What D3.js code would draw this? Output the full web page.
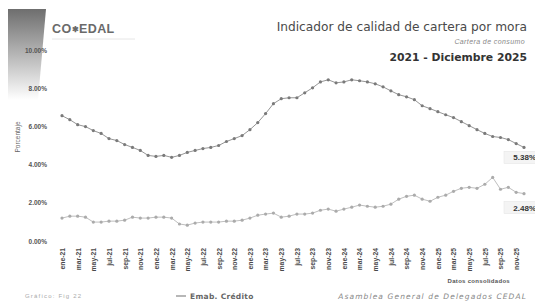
<!DOCTYPE html>
<meta charset="utf-8">
<script src="https://d3js.org/d3.v7.min.js"></script>
<style>
  body { margin: 0; background: #fff; }
  svg { font-family: "Liberation Sans", Arial, sans-serif; }
</style>
<body>
<svg id="chart" width="535" height="307"></svg>
<script>
// months: ene-2021 .. dic-2025
const monthNames = ["ene", "feb", "mar", "abr", "may", "jun", "jul", "ago", "sep", "oct", "nov", "dic"];
const years = ["21", "22", "23", "24", "25"];
const months = years.flatMap(y => monthNames.map(m => m + "-" + y));

// indicador de mora (%) - cartera total
const seriesTop = [6.56, 6.35, 6.09, 5.99, 5.78, 5.63, 5.36, 5.26, 5.05, 4.90,
                   4.74, 4.48, 4.43, 4.48, 4.38, 4.48, 4.64, 4.74, 4.84, 4.90,
                   5.00, 5.21, 5.36, 5.52, 5.83, 6.20, 6.67, 7.19, 7.45, 7.50,
                   7.50, 7.76, 8.02, 8.33, 8.44, 8.28, 8.33, 8.44, 8.39, 8.33,
                   8.23, 8.07, 7.86, 7.66, 7.55, 7.40, 7.08, 6.93, 6.77, 6.61,
                   6.46, 6.25, 6.04, 5.83, 5.63, 5.47, 5.42, 5.31, 5.10, 4.90];
// indicador de mora (%) - emab. crédito
const seriesLow = [1.20, 1.30, 1.30, 1.25, 0.99, 0.99, 1.04, 1.04, 1.09, 1.25,
                   1.20, 1.20, 1.25, 1.25, 1.20, 0.89, 0.83, 0.94, 0.99, 0.99,
                   0.99, 1.04, 1.04, 1.09, 1.20, 1.35, 1.41, 1.46, 1.25, 1.30,
                   1.41, 1.41, 1.46, 1.61, 1.67, 1.56, 1.67, 1.77, 1.88, 1.82,
                   1.77, 1.82, 1.93, 2.19, 2.34, 2.40, 2.19, 2.08, 2.29, 2.40,
                   2.60, 2.76, 2.81, 2.76, 2.97, 3.33, 2.71, 2.81, 2.55, 2.48];
const endLabels = ["5.38%", "2.48%"];
const yTicks = [0, 2, 4, 6, 8, 10];

const wide = "DejaVu Sans, Verdana, sans-serif";
const svg = d3.select("#chart");

// decorative gradient block top-left
const defs = svg.append("defs");
const grad = defs.append("linearGradient").attr("id", "fade").attr("x1", 0).attr("y1", 0).attr("x2", 0).attr("y2", 1);
grad.append("stop").attr("offset", "0%").attr("stop-color", "#6e6e6e");
grad.append("stop").attr("offset", "55%").attr("stop-color", "#bdbdbd");
grad.append("stop").attr("offset", "100%").attr("stop-color", "#ffffff");
svg.append("path").attr("d", "M8,9 L46,9 L38,100 L8,100 Z").attr("fill", "url(#fade)");

// logo
const logo = svg.append("text").attr("x", 52).attr("y", 33)
  .attr("font-size", 12.5).attr("font-weight", "bold").attr("fill", "#6a6a6a").attr("letter-spacing", 0.4);
logo.append("tspan").text("CO");
logo.append("tspan").attr("font-size", 8).attr("dy", -1).text("✱");
logo.append("tspan").attr("dy", 1).text("EDAL");
svg.append("line").attr("x1", 52).attr("x2", 135).attr("y1", 39).attr("y2", 39).attr("stroke", "#e6e6e6");

// titles
svg.append("text").attr("x", 527).attr("y", 31).attr("text-anchor", "end").attr("font-family", wide)
  .attr("font-size", 12.2).attr("fill", "#4a4a4a").text("Indicador de calidad de cartera por mora");
svg.append("text").attr("x", 525).attr("y", 44).attr("text-anchor", "end")
  .attr("font-size", 7).attr("font-style", "italic").attr("fill", "#888").attr("letter-spacing", 0.4).text("Cartera de consumo");
svg.append("text").attr("x", 527).attr("y", 61).attr("text-anchor", "end").attr("font-family", wide)
  .attr("font-size", 10.8).attr("font-weight", "bold").attr("fill", "#333").text("2021 - Diciembre 2025");

// scales
const x = d3.scalePoint().domain(months).range([62, 524]);
const y = d3.scaleLinear().domain([0, 10]).range([241, 50]);

// y axis (labels only)
const yAxis = svg.append("g").attr("transform", "translate(50,0)")
  .call(d3.axisLeft(y).tickValues(yTicks).tickSize(0).tickFormat(d => d3.format(".2f")(d) + "%"));
yAxis.select(".domain").remove();
yAxis.selectAll("text").attr("font-size", 6.5).attr("font-weight", "bold").attr("fill", "#555")
  .attr("font-family", "Liberation Sans, Arial, sans-serif");

svg.append("text").attr("transform", "translate(20,137) rotate(-90)").attr("text-anchor", "middle")
  .attr("font-size", 6.5).attr("fill", "#666").text("Porcentaje");

// x axis labels every 2 months
const xAxis = svg.append("g").attr("transform", "translate(0,246)")
  .call(d3.axisBottom(x).tickValues(months.filter((d, i) => i % 2 === 0)).tickSize(0));
xAxis.select(".domain").remove();
xAxis.selectAll("text").attr("transform", "rotate(-90)").attr("text-anchor", "end")
  .attr("x", -2).attr("y", 0).attr("dy", "0.35em")
  .attr("font-size", 6.8).attr("font-weight", "bold").attr("fill", "#4a4a4a")
  .attr("font-family", "Liberation Sans, Arial, sans-serif");

// lines
const line = d3.line().x((d, i) => x(months[i])).y(d => y(d));
[seriesTop, seriesLow].forEach((s, k) => {
  svg.append("path").datum(s).attr("d", line).attr("fill", "none")
    .attr("stroke", k === 0 ? "#8a8a8a" : "#b8b8b8").attr("stroke-width", 0.9);
  svg.append("g").selectAll("circle").data(s).join("circle")
    .attr("cx", (d, i) => x(months[i])).attr("cy", d => y(d)).attr("r", 1.6)
    .attr("fill", k === 0 ? "#7a7a7a" : "#ababab");
});

// end labels
[[seriesTop, 0, 12], [seriesLow, 1, 16]].forEach(([s, k, dy]) => {
  const lx = x(months[months.length - 1]) + 8, ly = y(s[s.length - 1]) + dy;
  const g = svg.append("g");
  g.append("rect").attr("x", lx - 28).attr("y", ly - 8).attr("width", 34).attr("height", 12)
    .attr("fill", "#f4f4f4").attr("stroke", "#e2e2e2").attr("stroke-width", 0.5);
  g.append("text").attr("x", lx + 4).attr("y", ly + 1).attr("text-anchor", "end")
    .attr("font-size", 8).attr("font-weight", "bold").attr("fill", "#333").text(endLabels[k]);
});

// footer
svg.append("text").attr("x", 510).attr("y", 283).attr("text-anchor", "end")
  .attr("font-size", 6).attr("font-weight", "bold").attr("fill", "#555").attr("letter-spacing", 0.3).text("Datos consolidados");
svg.append("text").attr("x", 25).attr("y", 298).attr("font-size", 6).attr("fill", "#aaa").attr("letter-spacing", 1.2).text("Gráfico: Fig 22");
svg.append("line").attr("x1", 176).attr("x2", 186).attr("y1", 296).attr("y2", 296).attr("stroke", "#888").attr("stroke-width", 1.2);
svg.append("text").attr("x", 190).attr("y", 298.5).attr("font-family", wide).attr("font-size", 7.5)
  .attr("font-weight", "bold").attr("fill", "#666").attr("letter-spacing", 0.3).text("Emab. Crédito");
svg.append("text").attr("x", 527).attr("y", 299).attr("text-anchor", "end").attr("font-family", wide)
  .attr("font-size", 7.5).attr("font-style", "italic").attr("fill", "#888").attr("letter-spacing", 1.1)
  .text("Asamblea General de Delegados CEDAL");
</script>
</body>
